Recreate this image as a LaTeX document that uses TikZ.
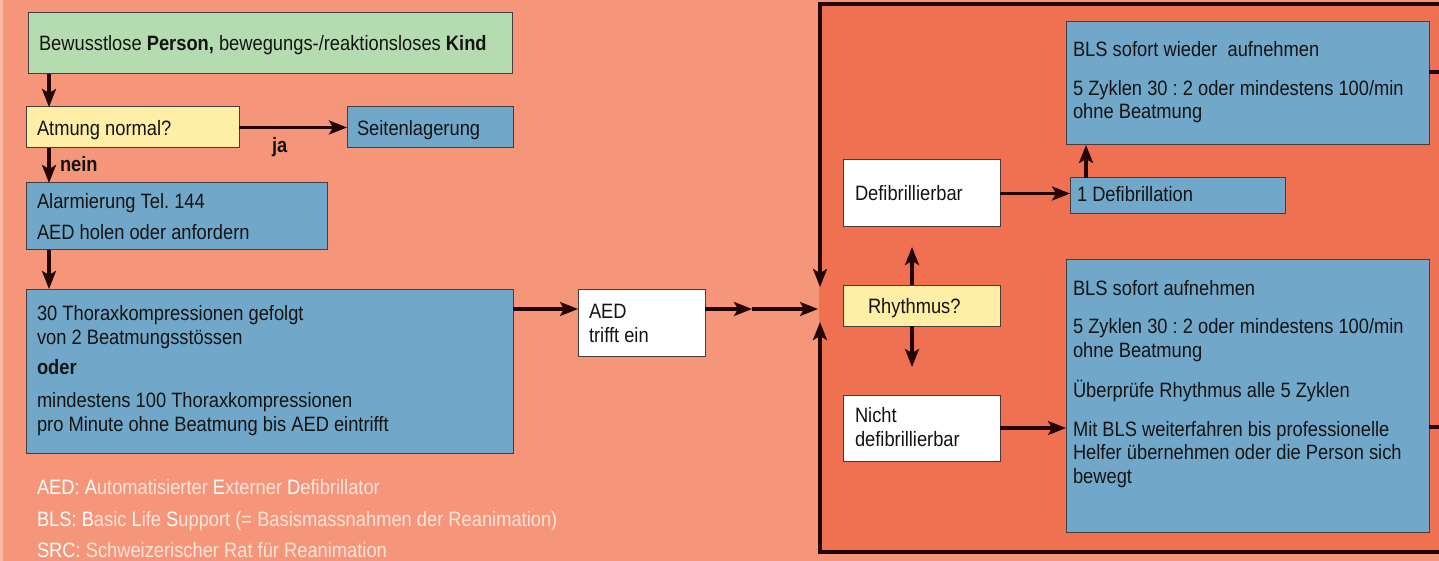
\documentclass[tikz,border=0pt]{standalone}
\usepackage{fontspec}
\setmainfont[FakeStretch=0.88]{Liberation Sans}
\usetikzlibrary{arrows.meta}
\frenchspacing
\definecolor{bgc}{RGB}{245,150,122}
\definecolor{stripc}{RGB}{250,186,160}
\definecolor{panelc}{RGB}{240,112,82}
\definecolor{bluec}{RGB}{113,168,202}
\definecolor{greenc}{RGB}{181,219,176}
\definecolor{yellowc}{RGB}{255,238,166}
\definecolor{arrowc}{RGB}{35,5,5}
\definecolor{linec}{RGB}{70,60,60}
\definecolor{textc}{RGB}{20,20,20}
\definecolor{legw}{RGB}{255,255,255}
\definecolor{legl}{RGB}{253,228,218}
\tikzset{
  box/.style={draw=linec, line width=1pt, anchor=north west, inner sep=0pt, outer sep=0pt},
  bluebox/.style={box, fill=bluec},
  whitebox/.style={box, fill=white},
  txt/.style={inner sep=0pt, outer sep=0pt, anchor=base west, align=left, text=textc, font=\fontsize{20.8}{23.5}\selectfont},
  legtxt/.style={txt, text=legl},
  arr/.style={draw=arrowc, line width=3.2pt, -{Stealth[length=18pt,width=14pt,inset=4pt]}},
  plain/.style={draw=arrowc, line width=3.2pt},
}
\begin{document}
\begin{tikzpicture}[x=1pt,y=-1pt]
\useasboundingbox (0,0) rectangle (1439,561);
\fill[bgc] (0,0) rectangle (1439,561);
\fill[stripc] (0,0) rectangle (3,561);
% right panel
\node[anchor=north west, inner sep=0pt, outer sep=0pt, fill=panelc, minimum width=640pt, minimum height=548pt] (panel) at (819,4) {};
\coordinate (pTR) at (1445,4);
\coordinate (pTL) at (820,4);
\coordinate (pDown) at (820,287);
\coordinate (pBR) at (1445,552);
\coordinate (pBL) at (820,552);
\coordinate (pUp) at (820,322);
\coordinate (pIn) at (818,309);
\coordinate (aedMid) at (752,309);
\draw[arr] (pTR) -- (pTL) -- (pDown);
\draw[arr] (pBR) -- (pBL) -- (pUp);

% left boxes
\node[box, fill=greenc, minimum width=484pt, minimum height=61pt] (green) at (28,13) {};
\node[txt] (tgreen) at (39,51) {Bewusstlose \textbf{Person,} bewegungs-/reaktionsloses \textbf{Kind}};
\node[box, fill=yellowc, minimum width=213pt, minimum height=41pt] (atmung) at (26,107) {};
\node[txt] (tatmung) at (37,136) {Atmung normal?};
\node[bluebox, minimum width=166pt, minimum height=41pt] (seiten) at (347,107) {};
\node[txt] (tseiten) at (357,136) {Seitenlagerung};
\node[txt] (tja) at (272,153) {\textbf{ja}};
\node[txt] (tnein) at (60,172) {\textbf{nein}};
\node[bluebox, minimum width=301pt, minimum height=67pt] (alarm) at (26,183) {};
\node[txt] (talarm1) at (37,209) {Alarmierung Tel. 144};
\node[txt] (talarm2) at (37,240) {AED holen oder anfordern};
\node[bluebox, minimum width=487pt, minimum height=164pt] (big) at (26,289) {};
\node[txt] (tbig1) at (37,344) {30 Thoraxkompressionen gefolgt\\von 2 Beatmungsstössen};
\node[txt] (tbig2) at (37,374) {\textbf{oder}};
\node[txt] (tbig3) at (37,431) {mindestens 100 Thoraxkompressionen\\pro Minute ohne Beatmung bis AED eintrifft};
\node[whitebox, minimum width=127pt, minimum height=67pt] (aed) at (578,289) {};
\node[txt] (taed) at (589,342) {AED\\trifft ein};

% legend
\node[legtxt] (leg1) at (37,494) {\textcolor{legw}{AED: A}utomatisierter \textcolor{legw}{E}xterner \textcolor{legw}{D}efibrillator};
\node[legtxt] (leg2) at (37,526) {\textcolor{legw}{BLS: B}asic \textcolor{legw}{L}ife \textcolor{legw}{S}upport (= Basismassnahmen der Reanimation)};
\node[legtxt] (leg3) at (37,557) {\textcolor{legw}{SRC:} Schweizerischer Rat für Reanimation};

% right boxes
\node[bluebox, minimum width=363pt, minimum height=123pt] (topbox) at (1066,22) {};
\node[txt] (ttop1) at (1073,57) {BLS sofort wieder\ \ aufnehmen};
\node[txt] (ttop2) at (1073,119) {5 Zyklen 30 : 2 oder mindestens 100/min\\ohne Beatmung};
\node[whitebox, minimum width=157pt, minimum height=67pt] (defib) at (843,160) {};
\node[txt] (tdefib) at (855,201) {Defibrillierbar};
\node[bluebox, minimum width=215pt, minimum height=36pt] (onedef) at (1070,178) {};
\node[txt] (tonedef) at (1077,202) {1 Defibrillation};
\node[box, fill=yellowc, minimum width=157pt, minimum height=41pt] (rhy) at (843,285) {};
\node[txt] (trhy) at (868,313) {Rhythmus?};
\node[whitebox, minimum width=157pt, minimum height=66pt] (nicht) at (843,395) {};
\node[txt] (tnicht) at (855,446) {Nicht\\defibrillierbar};
\node[bluebox, minimum width=363pt, minimum height=273pt] (bot) at (1066,259) {};
\node[txt] (tbot1) at (1073,295) {BLS sofort aufnehmen};
\node[txt] (tbot2) at (1073,357) {5 Zyklen 30 : 2 oder mindestens 100/min\\ohne Beatmung};
\node[txt] (tbot3) at (1073,397) {Überprüfe Rhythmus alle 5 Zyklen};
\node[txt] (tbot4) at (1073,483) {Mit BLS weiterfahren bis professionelle\\Helfer übernehmen oder die Person sich\\bewegt};

% connectors left
\draw[arr] ([xshift=21pt]green.south west) -- ([xshift=23pt]atmung.north west);
\draw[arr] (atmung.east) -- (seiten.west);
\draw[arr] ([xshift=23pt]atmung.south west) -- ([xshift=23pt]alarm.north west);
\draw[arr] ([xshift=23pt]alarm.south west) -- ([xshift=23pt]big.north west);
\draw[arr] ([yshift=-20pt]big.north east) -- ([yshift=-20pt]aed.north west);
\draw[arr] ([yshift=-20pt]aed.north east) -- (aedMid);
\draw[arr] (aedMid) -- (pIn);

% connectors right
\draw[arr, shorten >=20pt] ([xshift=69pt]rhy.north west) -- ([xshift=69pt]defib.south west);
\draw[arr, shorten >=28pt] ([xshift=69pt]rhy.south west) -- ([xshift=69pt]nicht.north west);
\draw[arr] (defib.east) -- (defib.east -| onedef.west);
\draw[arr] ([xshift=16pt]onedef.north west) -- ([xshift=16pt]onedef.north west |- topbox.south);
\draw[arr] (nicht.east) -- (nicht.east -| bot.west);
\coordinate (topOut) at (1445,72);
\coordinate (botOut) at (1445,427);
\draw[plain] ([yshift=-50pt]topbox.north east) -- (topOut);
\draw[plain] ([yshift=-168pt]bot.north east) -- (botOut);
\end{tikzpicture}
\end{document}
